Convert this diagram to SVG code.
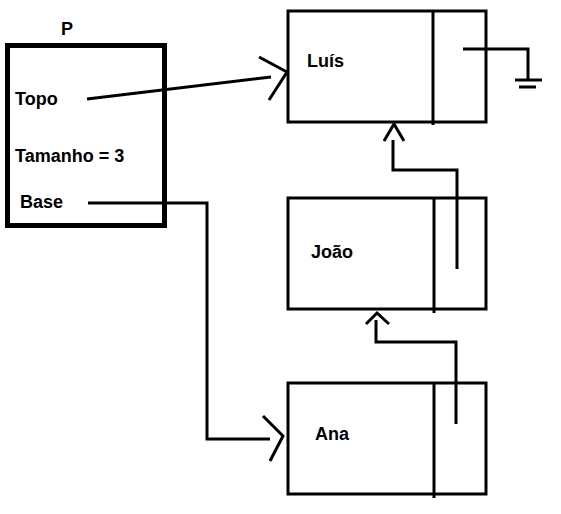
<svg xmlns="http://www.w3.org/2000/svg" width="561" height="514" viewBox="0 0 561 514">
<style>
.box{fill:none;stroke:#000;stroke-width:3}
.pbox{fill:none;stroke:#000;stroke-width:5}
.ln{fill:none;stroke:#000;stroke-width:3}
.t{font-family:"Liberation Sans",Arial,sans-serif;font-weight:bold;font-size:18px;fill:#000}
</style>
<rect width="561" height="514" fill="#fff"/>
<g id="P">
<text class="t" x="61" y="35">P</text>
<rect class="pbox" x="7.5" y="45.5" width="157" height="180"/>
<text class="t" x="15" y="105">Topo</text>
<text class="t" x="15" y="162">Tamanho = 3</text>
<text class="t" x="20" y="208">Base</text>
</g>
<g id="Luis">
<rect class="box" x="288" y="11" width="198" height="111"/>
<line class="ln" x1="433" y1="10" x2="433" y2="125"/>
<text class="t" x="307" y="67">Luís</text>
</g>
<g id="Joao">
<rect class="box" x="288" y="198" width="198" height="111"/>
<line class="ln" x1="434" y1="198" x2="434" y2="313"/>
<text class="t" x="311" y="258">João</text>
</g>
<g id="Ana">
<rect class="box" x="288" y="383" width="198" height="111"/>
<line class="ln" x1="434" y1="383" x2="434" y2="498"/>
<text class="t" x="315" y="440">Ana</text>
</g>
<g id="ground">
<polyline class="ln" points="463,49 528,49 528,80"/>
<line class="ln" x1="515" y1="80" x2="542" y2="80"/>
<line class="ln" x1="519" y1="87" x2="536" y2="87"/>
</g>
<g id="connectors">
<line class="ln" x1="87" y1="99" x2="271" y2="77"/>
<polyline class="ln" points="259,57 287,72 269,100"/>
<polyline class="ln" points="88,203 207,203 207,439 270,439"/>
<polyline class="ln" points="263,416 283,436 270,461"/>
<polyline class="ln" points="457,269 457,170 393,170 393,140"/>
<polyline class="ln" points="384,141 394,124 404,141"/>
<polyline class="ln" points="456,424 456,342 376,342 376,320"/>
<polyline class="ln" points="366,324 377,313 389,324"/>
</g>
</svg>
